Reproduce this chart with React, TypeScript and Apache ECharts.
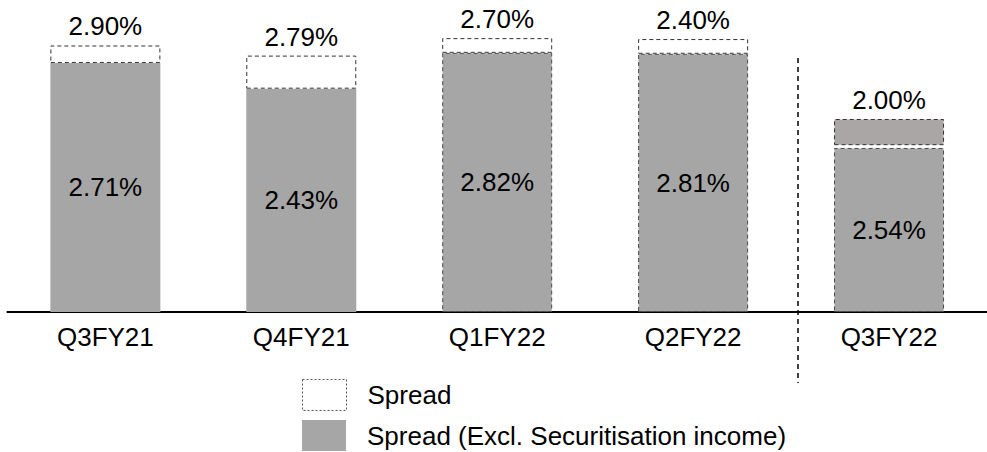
import React, { useEffect, useRef } from "react";
import * as echarts from "echarts";

const categories = ["Q3FY21", "Q4FY21", "Q1FY22", "Q2FY22", "Q3FY22"];
// Labels as printed on the chart
const spreadLabels = [2.9, 2.79, 2.7, 2.4, 2.0];
const exclLabels = [2.71, 2.43, 2.82, 2.81, 2.54];
// Bar heights as drawn in the picture (same unit as labels)
const exclBarHeights = [2.71, 2.43, 2.82, 2.81, 1.785];
const spreadBarTops = [2.9, 2.79, 2.98, 2.97, 2.1];
const gapHeights = [0, 0, 0, 0, 0.03];

const GRAY = "#a6a6a6";
const FONT = "'Liberation Sans', Arial, sans-serif";
const FS = 26;

export default function App() {
  const ref = useRef<HTMLDivElement>(null);
  useEffect(() => {
    if (!ref.current) return;
    const chart = echarts.init(ref.current, undefined, { renderer: "svg" });
    const dashedIdx = [2, 3, 4];
    const exclData = exclBarHeights.map((v, i) =>
      dashedIdx.includes(i)
        ? {
            value: v,
            itemStyle: {
              color: GRAY,
              borderColor: "#4a4a4a",
              borderWidth: 1,
              borderType: [4, 3],
            },
          }
        : { value: v }
    );
    const spreadData = spreadBarTops.map((t, i) => {
      const v = +(t - exclBarHeights[i] - gapHeights[i]).toFixed(4);
      return i === 4
        ? { value: v, itemStyle: { color: "#aba6a6" } }
        : { value: v };
    });
    const legendText = { fontSize: FS, color: "#000", fontFamily: FONT, padding: [0, 0, 0, 16] };
    chart.setOption({
      animation: false,
      textStyle: { fontFamily: FONT },
      grid: { left: 7.4, right: -6.6, top: 36.3, bottom: 140 },
      xAxis: {
        type: "category",
        data: categories,
        axisLine: { lineStyle: { color: "#000", width: 2 } },
        axisTick: { show: false },
        axisLabel: { fontSize: FS, color: "#000", margin: 12, fontFamily: FONT },
      },
      yAxis: { type: "value", min: 0, max: 3, show: false },
      legend: [
        {
          left: 302,
          top: 379,
          padding: 0,
          itemWidth: 44,
          itemHeight: 31,
          icon: "rect",
          textStyle: legendText,
          data: [
            {
              name: "Spread",
              itemStyle: { color: "#fff", borderColor: "#555", borderWidth: 1, borderType: [2, 2] },
            },
          ],
        },
        {
          left: 302,
          top: 420,
          padding: 0,
          itemWidth: 44,
          itemHeight: 31,
          icon: "rect",
          textStyle: legendText,
          data: [
            { name: "Spread (Excl. Securitisation income)", itemStyle: { color: GRAY, borderWidth: 0 } },
          ],
        },
      ],
      series: [
        {
          name: "Spread (Excl. Securitisation income)",
          type: "bar",
          stack: "a",
          barWidth: 110,
          data: exclData,
          itemStyle: { color: GRAY },
          label: {
            show: true,
            position: "inside",
            fontSize: FS,
            color: "#000",
            fontFamily: FONT,
            formatter: (p: any) => exclLabels[p.dataIndex].toFixed(2) + "%",
          },
        },
        {
          name: "gap",
          type: "bar",
          stack: "a",
          barWidth: 110,
          silent: true,
          data: gapHeights,
          itemStyle: { color: "rgba(0,0,0,0)" },
        },
        {
          name: "Spread",
          type: "bar",
          stack: "a",
          barWidth: 110,
          data: spreadData,
          itemStyle: {
            color: "#fff",
            borderColor: "#333",
            borderWidth: 1,
            borderType: [4, 3],
          },
          label: {
            show: true,
            position: "top",
            distance: 6,
            fontSize: FS,
            color: "#000",
            fontFamily: FONT,
            formatter: (p: any) => spreadLabels[p.dataIndex].toFixed(2) + "%",
          },
        },
      ],
      graphic: [
        {
          type: "line",
          silent: true,
          shape: { x1: 798, y1: 58, x2: 798, y2: 383 },
          style: { stroke: "#000", lineWidth: 1.5, lineDash: [5, 4] },
        },
      ],
    });
    return () => chart.dispose();
  }, []);
  return (
    <div
      ref={ref}
      style={{ position: "absolute", left: 0, top: 0, width: 987, height: 452 }}
    />
  );
}
